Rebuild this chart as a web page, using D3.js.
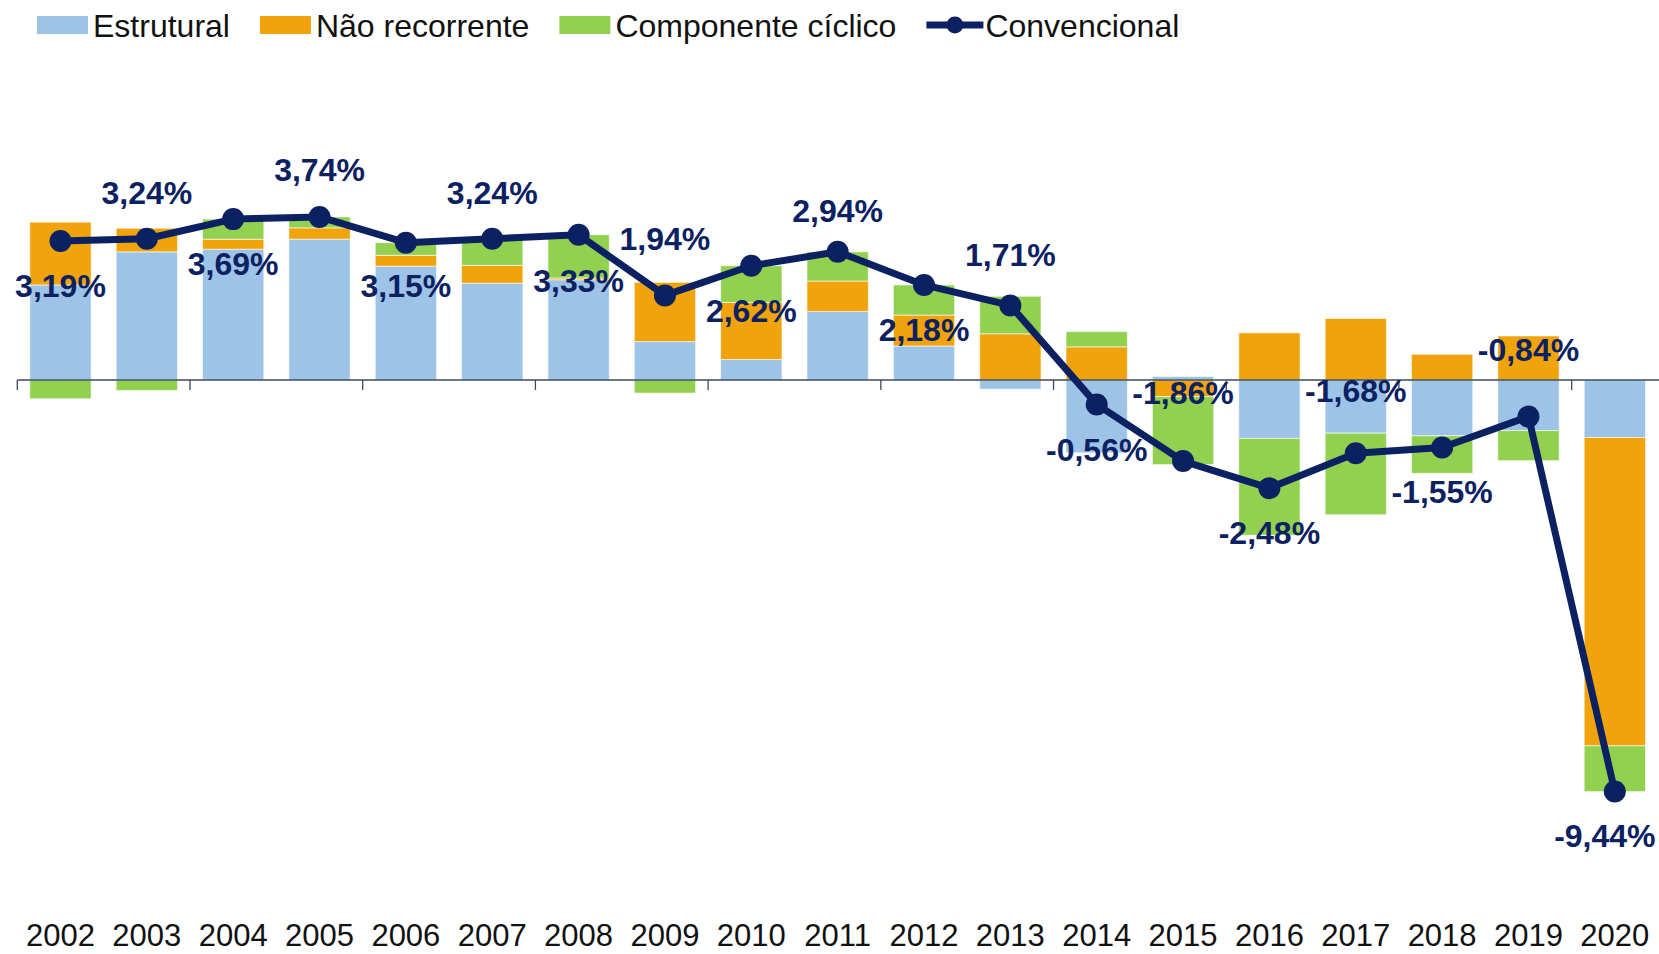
<!DOCTYPE html>
<html>
<head>
<meta charset="utf-8">
<script src="https://cdn.jsdelivr.net/npm/d3@7"></script>
<style>
  html, body { margin: 0; padding: 0; background: #fff; }
  svg { display: block; font-family: "Liberation Sans", Arial, Helvetica, sans-serif; }
</style>
</head>
<body>
<svg id="chart" width="1659" height="954"></svg>
<script>
// ---------- data ----------
const years = ["2002","2003","2004","2005","2006","2007","2008","2009","2010","2011","2012","2013","2014","2015","2016","2017","2018","2019","2020"];
const estrutural    = [2.18, 2.94, 3.00, 3.23, 2.61, 2.22, 2.30, 0.88, 0.47, 1.57, 0.78, -0.21, -1.67, 0.08, -1.34, -1.22, -1.28, -1.16, -1.32];
const naoRecorrente = [1.44, 0.54, 0.23, 0.26, 0.25, 0.41, 0.04, 1.36, 1.31, 0.70, 0.71, 1.06, 0.76, -0.38, 1.08, 1.41, 0.59, 1.01, -7.07];
const ciclico       = [-0.43, -0.24, 0.46, 0.25, 0.29, 0.61, 0.99, -0.30, 0.84, 0.67, 0.69, 0.86, 0.35, -1.56, -2.22, -1.87, -0.86, -0.69, -1.05];
const convencional  = [3.19, 3.24, 3.69, 3.74, 3.15, 3.24, 3.33, 1.94, 2.62, 2.94, 2.18, 1.71, -0.56, -1.86, -2.48, -1.68, -1.55, -0.84, -9.44];
const seriesNames = ["Estrutural", "Não recorrente", "Componente cíclico"];
const lineName = "Convencional";

// ---------- layout / style ----------
const colors = { "Estrutural": "#9DC3E6", "Não recorrente": "#F0A30A", "Componente cíclico": "#92D050" };
const navy = "#0B2161";
const labelDy = [45,-46,44,-47,43,-46,46,-57,45,-41,45,-51,45,-69,44,-63,44,-67,44];
const labelDx = [0,0,0,0,0,0,0,0,0,0,0,0,0,0,0,0,0,0,-10];

const svg = d3.select("#chart");
const x = d3.scaleBand().domain(years).range([17.3, 1658]).paddingInner(0.29).paddingOuter(0.145);
const y = d3.scaleLinear().domain([-10, 4]).range([816, 205.6]);

const rows = years.map((yr, i) => ({
  year: yr,
  "Estrutural": estrutural[i],
  "Não recorrente": naoRecorrente[i],
  "Componente cíclico": ciclico[i]
}));
const stacked = d3.stack().keys(seriesNames).offset(d3.stackOffsetDiverging)(rows);

// bars
svg.append("g").selectAll("g").data(stacked).join("g")
  .attr("fill", d => colors[d.key])
  .selectAll("rect").data(d => d).join("rect")
  .attr("x", d => x(d.data.year))
  .attr("width", x.bandwidth())
  .attr("y", d => y(Math.max(d[0], d[1])))
  .attr("height", d => Math.abs(y(d[0]) - y(d[1])))
  .attr("stroke", "#ffffff").attr("stroke-opacity", 0.6).attr("stroke-width", 1);

// zero axis
const axisColor = "#3B4A5E";
svg.append("line")
  .attr("x1", 17.3).attr("x2", 1659)
  .attr("y1", y(0)).attr("y2", y(0))
  .attr("stroke", axisColor).attr("stroke-width", 1.3);
const step = x.step();
const tickIdx = d3.range(0, years.length + 1, 2);
svg.append("g").selectAll("line").data(tickIdx).join("line")
  .attr("x1", k => x(years[0]) - x.paddingOuter() * step + k * step)
  .attr("x2", k => x(years[0]) - x.paddingOuter() * step + k * step)
  .attr("y1", y(0)).attr("y2", y(0) + 10)
  .attr("stroke", axisColor).attr("stroke-width", 1.3);

// year labels
svg.append("g").selectAll("text").data(years).join("text")
  .attr("x", d => x(d) + x.bandwidth() / 2)
  .attr("y", 946)
  .attr("text-anchor", "middle")
  .attr("font-size", 31)
  .attr("fill", "#111")
  .text(d => d);

// line
const cx = i => x(years[i]) + x.bandwidth() / 2;
const line = d3.line().x((d, i) => cx(i)).y(d => y(d));
svg.append("path").datum(convencional)
  .attr("d", line)
  .attr("fill", "none").attr("stroke", navy).attr("stroke-width", 7).attr("stroke-linejoin", "round");
svg.append("g").selectAll("circle").data(convencional).join("circle")
  .attr("cx", (d, i) => cx(i)).attr("cy", d => y(d)).attr("r", 11)
  .attr("fill", navy);

// data labels
const fmt = v => d3.format(".2f")(v).replace(".", ",").replace("−", "-") + "%";
svg.append("g").selectAll("text").data(convencional).join("text")
  .attr("x", (d, i) => cx(i) + labelDx[i])
  .attr("y", (d, i) => y(d) + labelDy[i])
  .attr("dy", "0.36em")
  .attr("text-anchor", "middle")
  .attr("font-size", 32).attr("font-weight", "bold")
  .attr("fill", navy)
  .text(d => fmt(d));

// legend
const lg = svg.append("g");
let lx = 37;
const swW = 51, swH = 18, swY = 16, textY = 37;
seriesNames.forEach(name => {
  lg.append("rect").attr("x", lx).attr("y", swY).attr("width", swW).attr("height", swH).attr("fill", colors[name]);
  const t = lg.append("text").attr("x", lx + swW + 5).attr("y", textY).attr("font-size", 32).attr("fill", "#111").text(name);
  lx = lx + swW + 5 + t.node().getComputedTextLength() + 30;
});
lg.append("line").attr("x1", lx).attr("x2", lx + 57).attr("y1", swY + swH / 2).attr("y2", swY + swH / 2)
  .attr("stroke", navy).attr("stroke-width", 7);
lg.append("circle").attr("cx", lx + 28.5).attr("cy", swY + swH / 2).attr("r", 8.5).attr("fill", navy);
lg.append("text").attr("x", lx + 59).attr("y", textY).attr("font-size", 32).attr("fill", "#111").text(lineName);
</script>
</body>
</html>
